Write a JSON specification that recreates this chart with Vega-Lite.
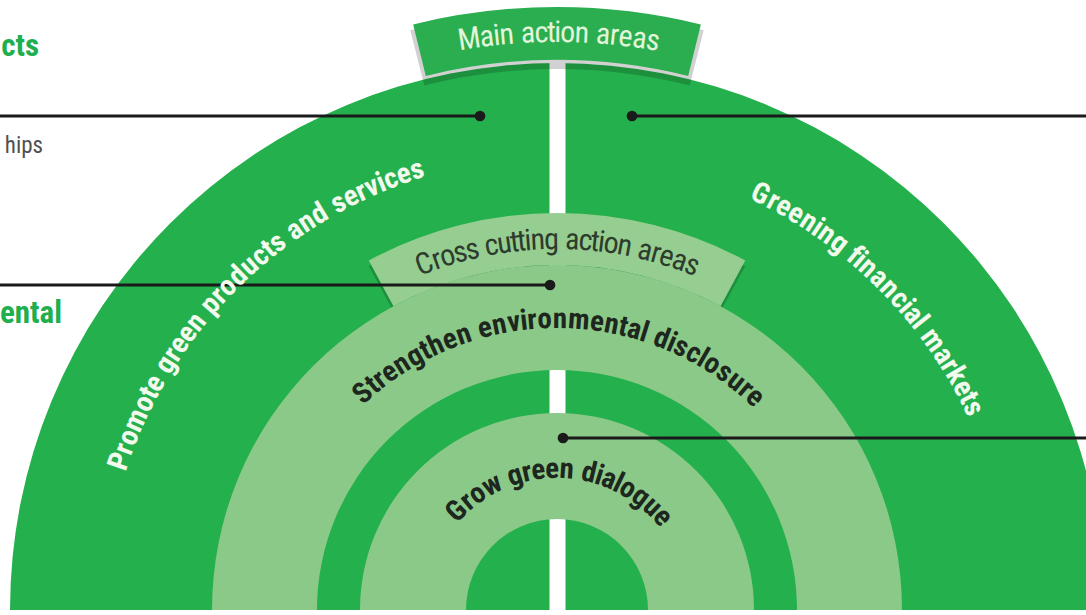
{
  "$schema": "https://vega.github.io/schema/vega-lite/v6.json",
  "width": 1086,
  "height": 615,
  "padding": 0,
  "autosize": {"type": "none"},
  "background": "#ffffff",
  "config": {"view": {"stroke": null}},
  "datasets": {
    "regions": [
      {"part": "disc", "kind": "dark", "t0": -90, "t1": 90, "r0": 0, "r1": 547},
      {"part": "ring", "kind": "light", "t0": -90, "t1": 90, "r0": 240, "r1": 345},
      {"part": "ring", "kind": "light", "t0": -90, "t1": 90, "r0": 91, "r1": 197},
      {"part": "banner", "kind": "band", "t0": -28.3, "t1": 28.3, "r0": 345, "r1": 397},
      {"part": "banner", "kind": "mainband", "t0": -13.8, "t1": 13.8, "r0": 550, "r1": 603}
    ],
    "gap": [{"x0": -7.5, "x1": 8.5, "y0": -5, "y1": 550}],
    "leaders": [
      {"x0": -557, "x1": -77, "y": 494},
      {"x0": -557, "x1": -7, "y": 325},
      {"x0": 529, "x1": 75, "y": 494},
      {"x0": 529, "x1": 6, "y": 172}
    ],
    "areaLabels": [
      {"label": "Promote green products and services", "on": "onDark", "r": 462, "t0": -72.3, "t1": -16.8},
      {"label": "Greening financial markets", "on": "onDark", "r": 463, "t0": 24.8, "t1": 65},
      {"label": "Strengthen environmental disclosure", "on": "onLight", "r": 291, "t0": -43.6, "t1": 44.3},
      {"label": "Grow green dialogue", "on": "onLight", "r": 141, "t0": -49.5, "t1": 51.5}
    ],
    "bannerLabels": [
      {"label": "Main action areas", "on": "onBanner", "r": 577, "t0": -9.8, "t1": 10.2},
      {"label": "Cross cutting action areas", "on": "onBand", "r": 370, "t0": -22.4, "t1": 22.4}
    ],
    "side": [
      {"text": "cts", "x": -518, "y": 563, "kind": "heading"},
      {"text": "hips", "x": -514, "y": 464, "kind": "body"},
      {"text": "ental", "x": -495, "y": 296, "kind": "heading"}
    ]
  },
  "layer": [
    {
      "data": {"name": "regions"},
      "transform": [{"filter": "datum.part == 'disc'"}],
      "mark": {"type": "arc"},
      "encoding": {
        "x": {"datum": 0, "type": "quantitative", "scale": {"domain": [-557, 529], "nice": false, "zero": false}, "axis": null},
        "y": {"datum": 0, "type": "quantitative", "scale": {"domain": [-5, 610], "nice": false, "zero": false}, "axis": null},
        "theta": {"field": "t0", "type": "quantitative", "stack": null, "scale": {"domain": [-90, 90], "range": [-1.5707963, 1.5707963]}},
        "theta2": {"field": "t1"},
        "radius": {"field": "r1", "type": "quantitative", "scale": {"type": "linear", "domain": [0, 600], "range": [0, 600], "zero": true}},
        "radius2": {"field": "r0"},
        "color": {"field": "kind", "type": "nominal", "legend": null,
          "scale": {"domain": ["dark", "light", "band", "mainband", "onDark", "onLight", "onBand", "onBanner", "heading", "body"],
                    "range": ["#24B04C", "#8BC989", "#95CE90", "#2AAE50", "#F1FAEC", "#1D271D", "#2E3C2E", "#E2F5D8", "#1FAF4E", "#505050"]}}
      }
    },
    {
      "data": {"name": "gap"},
      "mark": {"type": "rect", "color": "#ffffff"},
      "encoding": {
        "x": {"field": "x0", "type": "quantitative", "scale": {"domain": [-557, 529], "nice": false, "zero": false}, "axis": null},
        "x2": {"field": "x1"},
        "y": {"field": "y0", "type": "quantitative", "scale": {"domain": [-5, 610], "nice": false, "zero": false}, "axis": null},
        "y2": {"field": "y1"}
      }
    },
    {
      "data": {"name": "regions"},
      "transform": [{"filter": "datum.part == 'banner'"}],
      "mark": {"type": "arc", "color": "#000000", "opacity": 0.18, "radiusOffset": -5, "radius2Offset": -9, "thetaOffset": -0.007, "theta2Offset": 0.007},
      "encoding": {
        "x": {"datum": 0, "type": "quantitative"},
        "y": {"datum": 0, "type": "quantitative"},
        "theta": {"field": "t0", "type": "quantitative", "stack": null},
        "theta2": {"field": "t1"},
        "radius": {"field": "r1", "type": "quantitative"},
        "radius2": {"field": "r0"}
      }
    },
    {
      "data": {"name": "regions"},
      "transform": [{"filter": "datum.part != 'disc'"}],
      "mark": {"type": "arc"},
      "encoding": {
        "x": {"datum": 0, "type": "quantitative"},
        "y": {"datum": 0, "type": "quantitative"},
        "theta": {"field": "t0", "type": "quantitative", "stack": null},
        "theta2": {"field": "t1"},
        "radius": {"field": "r1", "type": "quantitative"},
        "radius2": {"field": "r0"},
        "color": {"field": "kind", "type": "nominal", "legend": null}
      }
    },
    {
      "data": {"name": "leaders"},
      "mark": {"type": "rule", "color": "#1a1a1a", "strokeWidth": 3},
      "encoding": {
        "x": {"field": "x0", "type": "quantitative"},
        "x2": {"field": "x1"},
        "y": {"field": "y", "type": "quantitative"}
      }
    },
    {
      "data": {"name": "leaders"},
      "mark": {"type": "circle", "color": "#1a1a1a", "opacity": 1, "size": 115},
      "encoding": {
        "x": {"field": "x1", "type": "quantitative"},
        "y": {"field": "y", "type": "quantitative"}
      }
    },
    {
      "data": {"name": "areaLabels"},
      "transform": [
        {"calculate": "split(datum.label, '')", "as": "chars"},
        {"flatten": ["chars"], "as": ["ch"]},
        {"calculate": "indexof('ijl', datum.ch) >= 0 ? 0.25 : datum.ch == ' ' ? 0.28 : indexof('ft', datum.ch) >= 0 ? 0.32 : datum.ch == 'r' ? 0.37 : indexof('mM', datum.ch) >= 0 ? 0.86 : datum.ch == 'w' ? 0.75 : indexof('CG', datum.ch) >= 0 ? 0.76 : indexof('PS', datum.ch) >= 0 ? 0.667 : indexof('acsvkeyxz', datum.ch) >= 0 ? 0.54 : 0.59", "as": "w"},
        {"window": [{"op": "sum", "field": "w", "as": "cum"}], "groupby": ["label"], "frame": [null, 0]},
        {"joinaggregate": [{"op": "sum", "field": "w", "as": "tot"}], "groupby": ["label"]},
        {"calculate": "datum.t0 + (datum.t1 - datum.t0) * (datum.cum - datum.w / 2) / datum.tot", "as": "th"},
        {"filter": "datum.ch != ' '"}
      ],
      "mark": {"type": "text", "font": "Liberation Sans Narrow, Roboto Condensed, Liberation Sans, sans-serif", "fontWeight": "bold", "fontSize": 29, "align": "center", "baseline": "middle"},
      "encoding": {
        "x": {"datum": 0, "type": "quantitative"},
        "y": {"datum": 0, "type": "quantitative"},
        "theta": {"field": "th", "type": "quantitative"},
        "radius": {"field": "r", "type": "quantitative"},
        "angle": {"field": "th", "type": "quantitative", "scale": {"domain": [-90, 90], "range": [-90, 90]}, "legend": null},
        "text": {"field": "ch"},
        "color": {"field": "on", "type": "nominal", "legend": null}
      }
    },
    {
      "data": {"name": "bannerLabels"},
      "transform": [
        {"calculate": "split(datum.label, '')", "as": "chars"},
        {"flatten": ["chars"], "as": ["ch"]},
        {"calculate": "indexof('ijl', datum.ch) >= 0 ? 0.23 : datum.ch == ' ' ? 0.28 : indexof('ft', datum.ch) >= 0 ? 0.28 : datum.ch == 'r' ? 0.34 : indexof('mM', datum.ch) >= 0 ? 0.84 : datum.ch == 'w' ? 0.72 : indexof('CG', datum.ch) >= 0 ? 0.73 : indexof('PS', datum.ch) >= 0 ? 0.667 : indexof('csvkyxz', datum.ch) >= 0 ? 0.5 : 0.556", "as": "w"},
        {"window": [{"op": "sum", "field": "w", "as": "cum"}], "groupby": ["label"], "frame": [null, 0]},
        {"joinaggregate": [{"op": "sum", "field": "w", "as": "tot"}], "groupby": ["label"]},
        {"calculate": "datum.t0 + (datum.t1 - datum.t0) * (datum.cum - datum.w / 2) / datum.tot", "as": "th"},
        {"filter": "datum.ch != ' '"}
      ],
      "mark": {"type": "text", "font": "Liberation Sans Narrow, Roboto Condensed, Liberation Sans, sans-serif", "fontWeight": "normal", "fontSize": 30, "align": "center", "baseline": "middle"},
      "encoding": {
        "x": {"datum": 0, "type": "quantitative"},
        "y": {"datum": 0, "type": "quantitative"},
        "theta": {"field": "th", "type": "quantitative"},
        "radius": {"field": "r", "type": "quantitative"},
        "angle": {"field": "th", "type": "quantitative", "legend": null},
        "text": {"field": "ch"},
        "color": {"field": "on", "type": "nominal", "legend": null}
      }
    },
    {
      "data": {"name": "side"},
      "transform": [{"filter": "datum.kind == 'heading'"}],
      "mark": {"type": "text", "font": "Liberation Sans Narrow, Roboto Condensed, Liberation Sans, sans-serif", "fontWeight": "bold", "fontSize": 31, "align": "right", "baseline": "middle"},
      "encoding": {
        "x": {"field": "x", "type": "quantitative"},
        "y": {"field": "y", "type": "quantitative"},
        "text": {"field": "text"},
        "color": {"field": "kind", "type": "nominal", "legend": null}
      }
    },
    {
      "data": {"name": "side"},
      "transform": [{"filter": "datum.kind == 'body'"}],
      "mark": {"type": "text", "font": "Liberation Sans Narrow, Roboto Condensed, Liberation Sans, sans-serif", "fontWeight": "normal", "fontSize": 23, "align": "right", "baseline": "middle"},
      "encoding": {
        "x": {"field": "x", "type": "quantitative"},
        "y": {"field": "y", "type": "quantitative"},
        "text": {"field": "text"},
        "color": {"field": "kind", "type": "nominal", "legend": null}
      }
    }
  ]
}
